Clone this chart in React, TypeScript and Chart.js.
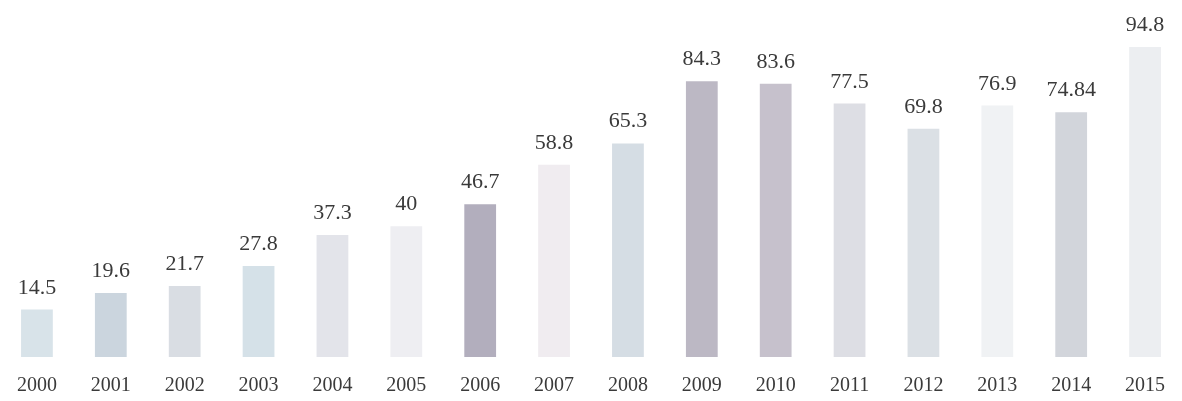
import React, { useEffect, useRef } from "react";
import { Chart, registerables } from "chart.js";

Chart.register(...registerables);

const years = ["2000", "2001", "2002", "2003", "2004", "2005", "2006", "2007", "2008", "2009", "2010", "2011", "2012", "2013", "2014", "2015"];
const values = [14.5, 19.6, 21.7, 27.8, 37.3, 40, 46.7, 58.8, 65.3, 84.3, 83.6, 77.5, 69.8, 76.9, 74.84, 94.8];
const valueLabels = ["14.5", "19.6", "21.7", "27.8", "37.3", "40", "46.7", "58.8", "65.3", "84.3", "83.6", "77.5", "69.8", "76.9", "74.84", "94.8"];
const barColors = [
  "#d8e3e9", "#cbd5de", "#d9dde3", "#d5e1e8", "#e3e4ea", "#eeeef2", "#b2aebd", "#f0ecf0",
  "#d5dde4", "#bcb8c4", "#c6c1cc", "#dddee4", "#dbe0e5", "#f0f2f4", "#d2d5db", "#eceef1",
];

const FONT = "'Liberation Serif', 'DejaVu Serif', serif";

const valueLabelPlugin = {
  id: "valueLabels",
  afterDatasetsDraw(chart: any) {
    const ctx = chart.ctx;
    const meta = chart.getDatasetMeta(0);
    ctx.save();
    ctx.font = `22px ${FONT}`;
    ctx.fillStyle = "#3a3a3a";
    ctx.textAlign = "center";
    ctx.textBaseline = "alphabetic";
    meta.data.forEach((bar: any, i: number) => {
      ctx.fillText(valueLabels[i], bar.x, bar.y - 16);
    });
    ctx.restore();
  },
};

export default function App() {
  const ref = useRef<HTMLCanvasElement>(null);
  useEffect(() => {
    document.body.style.margin = "0";
    const chart = new Chart(ref.current!, {
      type: "bar",
      data: {
        labels: years,
        datasets: [
          {
            data: values,
            backgroundColor: barColors,
            borderWidth: 0,
            barPercentage: 0.43,
            categoryPercentage: 1,
          },
        ],
      },
      options: {
        animation: false,
        responsive: false,
        maintainAspectRatio: false,
        layout: { padding: { top: 30, bottom: -6, left: 0, right: 0 } },
        plugins: { legend: { display: false }, tooltip: { enabled: false } },
        scales: {
          x: {
            grid: { display: false },
            border: { display: false },
            ticks: { color: "#3a3a3a", font: { family: FONT, size: 20 }, padding: 9, maxRotation: 0, autoSkip: false },
          },
          y: { display: false, min: 0, max: 100 },
        },
      },
      plugins: [valueLabelPlugin],
    });
    return () => chart.destroy();
  }, []);
  return <canvas ref={ref} width={1182} height={401} style={{ display: "block" }} />;
}
